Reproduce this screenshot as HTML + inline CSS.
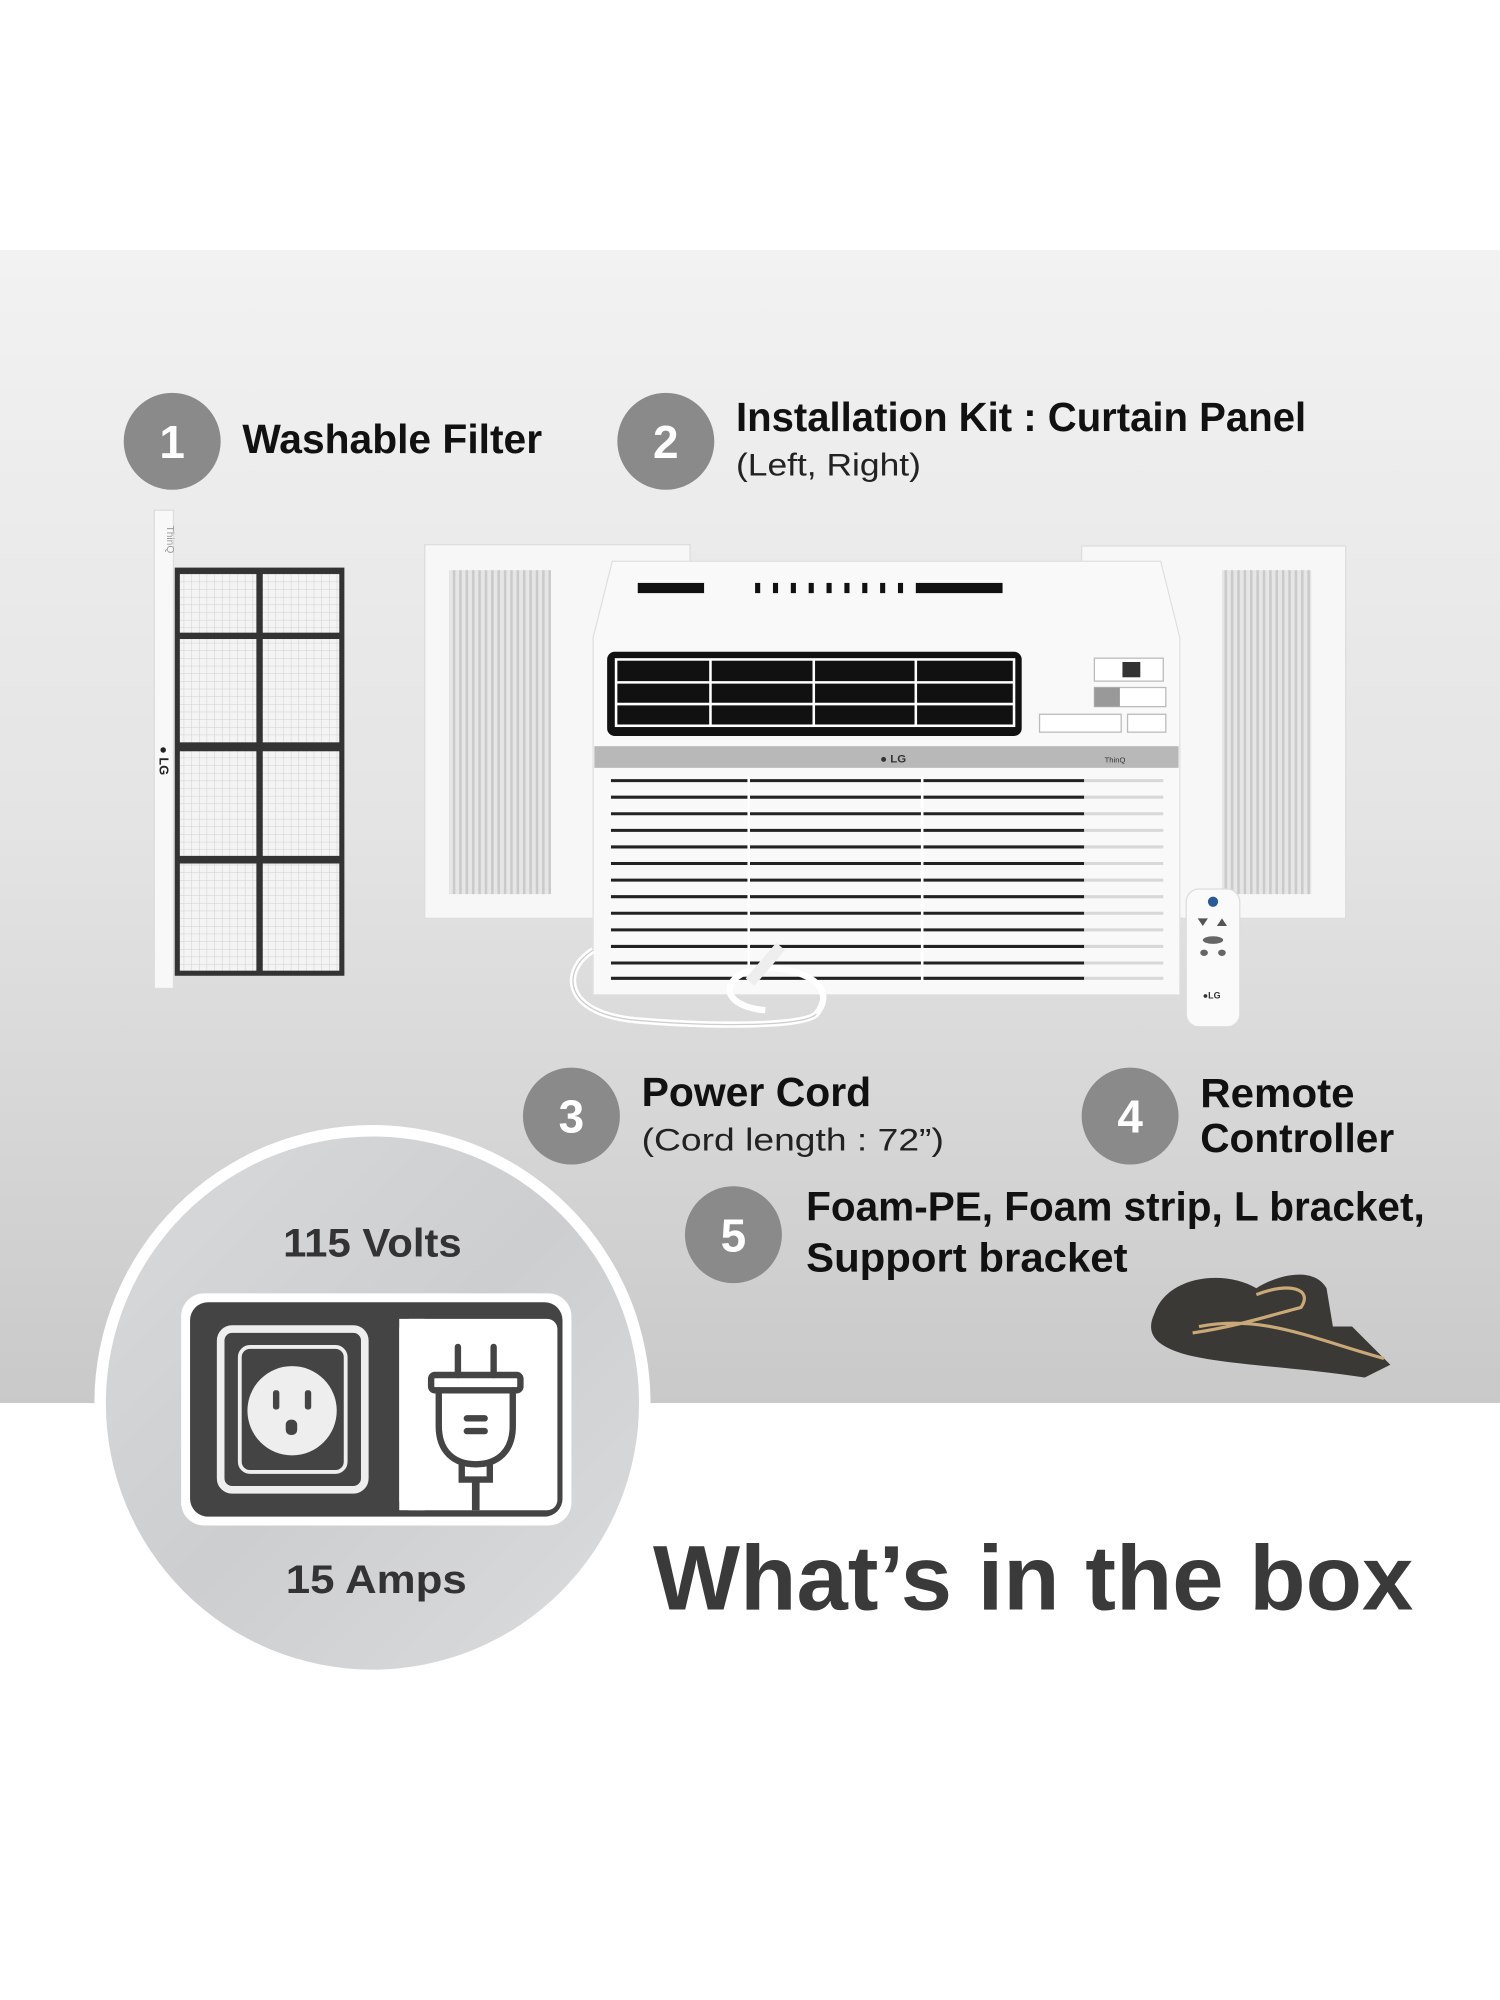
<!DOCTYPE html>
<html><head><meta charset="utf-8"><style>html,body{margin:0;padding:0;background:#fff}svg{display:block}</style></head>
<body>
<svg width="1500" height="2000" viewBox="0 0 1176 1568" xmlns="http://www.w3.org/2000/svg" font-family="Liberation Sans, sans-serif">
<defs>
<linearGradient id="bg" x1="0" y1="0" x2="0" y2="1">
<stop offset="0" stop-color="#f2f2f2"/><stop offset="0.5" stop-color="#e4e4e4"/><stop offset="1" stop-color="#c9c9c9"/>
</linearGradient>
<linearGradient id="bc" x1="0" y1="0" x2="1" y2="1">
<stop offset="0" stop-color="#d8dadc"/><stop offset="0.5" stop-color="#ccced0"/><stop offset="1" stop-color="#dadcde"/>
</linearGradient>
<pattern id="mesh" width="6" height="6" patternUnits="userSpaceOnUse">
<rect width="6" height="6" fill="#f4f4f4"/><path d="M0 0H6M0 0V6" stroke="#cfcfcf" stroke-width="0.8"/>
</pattern>
<pattern id="pleat" width="5" height="10" patternUnits="userSpaceOnUse">
<rect width="5" height="10" fill="#e6e6e6"/><rect width="2" height="10" fill="#cacaca"/>
</pattern>
</defs>
<rect width="1176" height="1568" fill="#fff"/>
<rect y="196" width="1176" height="904" fill="url(#bg)"/>

<circle cx="135" cy="346" r="38" fill="#8a8a8a"/>
<text x="135" y="359" font-size="36" font-weight="bold" fill="#fff" text-anchor="middle">1</text>
<text x="190" y="355" font-size="32" font-weight="bold" fill="#111" textLength="235" lengthAdjust="spacingAndGlyphs">Washable Filter</text>
<circle cx="522" cy="346" r="38" fill="#8a8a8a"/>
<text x="522" y="359" font-size="36" font-weight="bold" fill="#fff" text-anchor="middle">2</text>
<text x="577" y="338" font-size="32" font-weight="bold" fill="#111" textLength="447" lengthAdjust="spacingAndGlyphs">Installation Kit : Curtain Panel</text>
<text x="577" y="373" font-size="25" fill="#222" textLength="145" lengthAdjust="spacingAndGlyphs">(Left, Right)</text>

<rect x="121" y="400" width="15" height="375" fill="#f8f8f8" stroke="#ddd"/>
<text x="0" y="0" font-size="8" fill="#999" transform="translate(131,412) rotate(90)">ThinQ</text>
<text x="0" y="0" font-size="10" font-weight="bold" fill="#222" transform="translate(125,585) rotate(90)">● LG</text>
<rect x="137" y="445" width="133" height="320" fill="#333"/>
<rect x="141" y="450" width="60" height="46" fill="url(#mesh)"/><rect x="206" y="450" width="60" height="46" fill="url(#mesh)"/>
<rect x="141" y="501" width="60" height="81" fill="url(#mesh)"/><rect x="206" y="501" width="60" height="81" fill="url(#mesh)"/>
<rect x="141" y="589" width="60" height="82" fill="url(#mesh)"/><rect x="206" y="589" width="60" height="82" fill="url(#mesh)"/>
<rect x="141" y="677" width="60" height="84" fill="url(#mesh)"/><rect x="206" y="677" width="60" height="84" fill="url(#mesh)"/>

<rect x="333" y="427" width="208" height="293" fill="#f7f7f7" stroke="#ddd"/>
<rect x="352" y="447" width="80" height="254" fill="url(#pleat)"/>
<rect x="848" y="428" width="207" height="292" fill="#f7f7f7" stroke="#ddd"/>
<rect x="958" y="447" width="70" height="254" fill="url(#pleat)"/>

<path d="M480 440 H910 L925 500 V780 H465 V500 Z" fill="#f9f9f9" stroke="#e0e0e0"/>
<g fill="#111">
<rect x="500" y="457" width="52" height="8"/>
<rect x="592" y="457" width="4" height="8"/><rect x="606" y="457" width="4" height="8"/><rect x="620" y="457" width="4" height="8"/><rect x="634" y="457" width="4" height="8"/><rect x="648" y="457" width="4" height="8"/><rect x="662" y="457" width="4" height="8"/><rect x="676" y="457" width="4" height="8"/><rect x="690" y="457" width="4" height="8"/><rect x="704" y="457" width="4" height="8"/>
<rect x="718" y="457" width="68" height="8"/>
</g>
<rect x="476" y="511" width="325" height="66" rx="6" fill="#111"/>
<g fill="none" stroke="#fff" stroke-width="2">
<rect x="483" y="517" width="312" height="52"/>
<path d="M483 535H795M483 552H795M557 517V569M638 517V569M718 517V569"/>
</g>
<rect x="858" y="516" width="54" height="18" fill="#fff" stroke="#bbb"/>
<rect x="880" y="519" width="14" height="12" fill="#333"/>
<rect x="858" y="539" width="56" height="15" fill="#fff" stroke="#bbb"/><rect x="858" y="539" width="20" height="15" fill="#999"/>
<rect x="815" y="560" width="64" height="14" fill="#fff" stroke="#bbb"/><rect x="884" y="560" width="30" height="14" fill="#fff" stroke="#bbb"/>
<rect x="466" y="585" width="458" height="17" fill="#b8b8b8"/>
<text x="690" y="598" font-size="9" font-weight="bold" fill="#333">● LG</text>
<text x="866" y="598" font-size="6" fill="#333">ThinQ</text>
<g stroke="#222" stroke-width="2.4">
<path d="M479 612H850M479 625H850M479 638H850M479 651H850M479 664H850M479 677H850M479 690H850M479 703H850M479 716H850M479 729H850M479 742H850M479 755H850M479 767H850"/>
</g>
<g stroke="#d8d8d8" stroke-width="2.4">
<path d="M850 612H912M850 625H912M850 638H912M850 651H912M850 664H912M850 677H912M850 690H912M850 703H912M850 716H912M850 729H912M850 742H912M850 755H912M850 767H912"/>
</g>
<g stroke="#fff" stroke-width="2"><path d="M587 608V770M723 608V770"/></g>
<path d="M465 745 C440 760 440 795 500 800 C560 805 630 805 640 795 C660 770 620 755 590 760 C560 770 570 790 600 792" fill="none" stroke="#fff" stroke-width="5"/>
<path d="M465 745 C440 760 440 795 500 800 C560 805 630 805 640 795" fill="none" stroke="#ccc" stroke-width="1"/>
<path d="M612 742 L588 770" stroke="#eee" stroke-width="9"/>
<rect x="930" y="697" width="42" height="108" rx="10" fill="#fafafa" stroke="#ddd"/>
<circle cx="951" cy="707" r="4" fill="#2a5a9a"/>
<path d="M939 720h8l-4 6zM954 726h8l-4-6z" fill="#555"/>
<ellipse cx="951" cy="737" rx="8" ry="3" fill="#666"/>
<ellipse cx="944" cy="747" rx="3" ry="2.5" fill="#666"/><ellipse cx="958" cy="747" rx="3" ry="2.5" fill="#666"/>
<text x="943" y="783" font-size="7" font-weight="bold" fill="#333">●LG</text>

<circle cx="448" cy="875" r="38" fill="#8a8a8a"/>
<text x="448" y="888" font-size="36" font-weight="bold" fill="#fff" text-anchor="middle">3</text>
<text x="503" y="867" font-size="32" font-weight="bold" fill="#111" textLength="180" lengthAdjust="spacingAndGlyphs">Power Cord</text>
<text x="503" y="902" font-size="25" fill="#222" textLength="237" lengthAdjust="spacingAndGlyphs">(Cord length : 72”)</text>
<circle cx="886" cy="875" r="38" fill="#8a8a8a"/>
<text x="886" y="888" font-size="36" font-weight="bold" fill="#fff" text-anchor="middle">4</text>
<text x="941" y="868" font-size="32" font-weight="bold" fill="#111" textLength="121" lengthAdjust="spacingAndGlyphs">Remote</text>
<text x="941" y="903" font-size="32" font-weight="bold" fill="#111" textLength="152" lengthAdjust="spacingAndGlyphs">Controller</text>
<circle cx="575" cy="968" r="38" fill="#8a8a8a"/>
<text x="575" y="981" font-size="36" font-weight="bold" fill="#fff" text-anchor="middle">5</text>
<text x="632" y="957" font-size="32" font-weight="bold" fill="#111" textLength="485" lengthAdjust="spacingAndGlyphs">Foam-PE, Foam strip, L bracket,</text>
<text x="632" y="997" font-size="32" font-weight="bold" fill="#111" textLength="252" lengthAdjust="spacingAndGlyphs">Support bracket</text>
<path d="M905 1030 C915 1000 960 995 985 1010 C1000 1000 1030 992 1040 1010 L1045 1040 L1060 1040 L1090 1070 L1070 1080 C1020 1072 960 1070 930 1062 C905 1055 898 1045 905 1030Z" fill="#3b3935"/>
<path d="M940 1040 C990 1030 1030 1050 1085 1065 M985 1015 C1010 1005 1030 1010 1020 1025 C1000 1030 970 1040 935 1045" fill="none" stroke="#c9a978" stroke-width="2.5"/>

<circle cx="292" cy="1100" r="218" fill="#fff"/>
<circle cx="292" cy="1100" r="209" fill="url(#bc)"/>
<text x="222" y="985" font-size="31" font-weight="bold" fill="#333" textLength="140" lengthAdjust="spacingAndGlyphs">115 Volts</text>
<text x="224" y="1249" font-size="31" font-weight="bold" fill="#333" textLength="142" lengthAdjust="spacingAndGlyphs">15 Amps</text>
<rect x="142" y="1014" width="306" height="182" rx="18" fill="#fff"/>
<rect x="149" y="1021" width="292" height="168" rx="14" fill="#444"/>
<rect x="313" y="1034" width="124" height="150" rx="8" fill="#fff"/>
<rect x="313" y="1034" width="20" height="150" fill="#fff"/>
<rect x="173" y="1042" width="113" height="126" rx="9" fill="#444" stroke="#eee" stroke-width="6"/>
<rect x="188" y="1056" width="83" height="98" rx="8" fill="#444" stroke="#eee" stroke-width="3"/>
<circle cx="229" cy="1106" r="35" fill="#eee"/>
<rect x="214" y="1090" width="5" height="15" rx="2" fill="#444"/><rect x="239" y="1090" width="5" height="15" rx="2" fill="#444"/>
<rect x="224" y="1113" width="9" height="12" rx="4" fill="#444"/>
<g fill="none" stroke="#444" stroke-width="5" stroke-linecap="round">
<path d="M359 1056V1078M387 1056V1078"/>
<rect x="338" y="1078" width="70" height="12" rx="3"/>
<path d="M344 1090V1118C344 1138 356 1148 373 1148C390 1148 402 1138 402 1118V1090"/>
<path d="M362 1148V1160H384V1148"/>
<path d="M366 1112H380M366 1122H380"/>
</g>
<path d="M373 1162V1184" stroke="#444" stroke-width="6"/>

<text x="512" y="1262" font-size="72" font-weight="bold" fill="#3a3a3a" textLength="596" lengthAdjust="spacingAndGlyphs">What’s in the box</text>
</svg>
</body></html>
